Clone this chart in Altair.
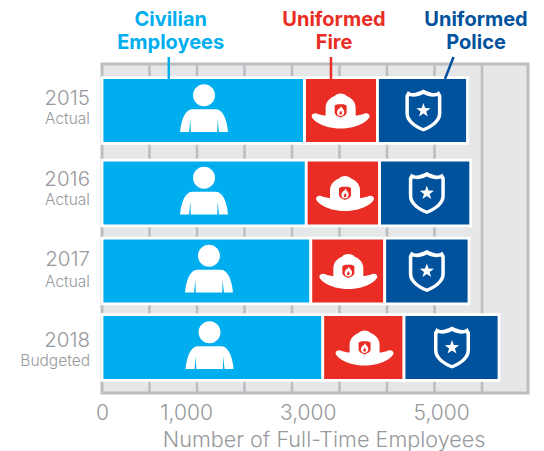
import json
import altair as alt
import pandas as pd

# --- values ---
years = ["2015", "2016", "2017", "2018"]
statuses = ["Actual", "Actual", "Actual", "Budgeted"]
row_center = [46.5, 129, 207, 283.5]
year_baseline = [41, 122, 201.5, 282.7]
status_baseline = [59.5, 141, 222.5, 302]
civilian = [2132, 2150, 2198, 2324]
fire = [768, 772, 778, 855]
police = [947, 959, 887, 1000]

person_x = [1074, 1074, 1126, 1132]
helmet_x = [2512, 2558, 2593, 2764]
shield_x = [3383, 3419, 3419, 3684]

grid_values = [500, 1000, 1500, 2000, 2500, 3000, 3500, 4000]
tick_positions = [0, 885, 2165, 3570]
tick_labels = ["0", "1,000", "3,000", "5,000"]

header_lines = ["Civilian", "Employees", "Uniformed", "Fire", "Uniformed", "Police"]
header_x = [723, 723, 2442, 2442, 3937, 3937]
header_y = [-37.8, -15.5, -37.8, -15.5, -37.8, -15.5]
header_color = ["#00aeef", "#00aeef", "#e92d24", "#e92d24", "#01529c", "#01529c"]

leader_x = [703, 2410, 3700]
leader_x2 = [703, 2410, 3610]
leader_color = ["#00aeef", "#e92d24", "#01529c"]

CIV, FIR, POL = "#00aeef", "#e92d24", "#01529c"
GREY = "#bcbec0"
TXT = "#97999c"
FONT = "Inter"

# --- icon outlines, relative to the centre of their bar ---
PERSON = ("M-11,-15.2 a11,11 0 1,0 22,0 a11,11 0 1,0 -22,0 Z "
          "M-24,21.5 C-23,10 -19,-1.2 -12,-1.2 L12,-1.2 C19,-1.2 23,10 24,21.5 "
          "L15,21.5 L13.6,9 L13.3,21.5 L-13.3,21.5 L-13.6,9 L-15,21.5 Z")
HELMET = ("M-29,6 C-29,3 -26,2.5 -24,3 C-20,4.5 -17,5 -15,5 L-15,-3 C-15,-9 -10,-13 -6,-14.5 "
          "C-4,-18 4,-18 6,-14.5 C10,-13 15,-9 15,-3 L15,5 C17,5 20,4.5 24,3 C26,2.5 29,3 29,6 "
          "C29,8 20,18 0,18 C-20,18 -29,8 -29,6 Z")
BADGE = "M-6,-5 L-3,-6.3 L3,-6.3 L6,-5 L6,2 C6,4 3,6 0,7 C-3,6 -6,4 -6,2 Z"
FLAME = ("M0.5,-4.5 C1,-2 4,-1 3.7,2 C3.4,4.5 1.5,5.5 0,5.5 C-1.5,5.5 -3.7,4.5 -3.7,2 "
         "C-3.7,0 -2.2,-1 -1.8,-2.2 C-1.3,-1.2 -0.7,-2 0.5,-4.5 Z")
EMBER = "M0.2,0 C0.8,1.2 1.6,2 1.3,3.2 C1,4.4 -1,4.4 -1.3,3.2 C-1.5,2 -0.5,1.4 0.2,0 Z"
SHIELD = ("M-18,-15 L-15.5,-19.5 C-13,-17 -9,-17 -6,-18.5 C-4,-19 -2,-20 0,-21 C2,-20 4,-19 6,-18.5 "
          "C9,-17 13,-17 15.5,-19.5 L18,-15 L18,3 C18,12 8,18 0,21 C-8,18 -18,12 -18,3 Z")
SHIELD_IN = ("M-14.5,-13.5 L-13.5,-14.5 C-10,-13 -5,-14 0,-16.5 C5,-14 10,-13 13.5,-14.5 L14.5,-13.5 "
             "L14.5,3 C14.5,10 6,15 0,17.5 C-6,15 -14.5,10 -14.5,3 Z")
STAR = ("M0,-7.5 L1.76,-2.43 L7.13,-2.32 L2.85,0.93 L4.41,6.07 L0,3 L-4.41,6.07 L-2.85,0.93 "
        "L-7.13,-2.32 L-1.76,-2.43 Z")

# --- tables ---
HALF = 32.9
rows = []
for i, y in enumerate(years):
    s = 0
    for name, vals, col in (("Civilian", civilian, CIV), ("Fire", fire, FIR), ("Police", police, POL)):
        rows.append(dict(year=y, group=name, start=s, end=s + vals[i], color=col,
                         top=row_center[i] - HALF, bottom=row_center[i] + HALF))
        s += vals[i]
bars = pd.DataFrame(rows)
icons = pd.DataFrame(dict(year=years, c=row_center, person=person_x, helmet=helmet_x, shield=shield_x))
ylabels = pd.DataFrame(dict(year=years, status=statuses, yb=year_baseline, sb=status_baseline))
grid = pd.DataFrame(dict(v=grid_values))
heads = pd.DataFrame(dict(t=header_lines, x=header_x, y=header_y, col=header_color))
leaders = pd.DataFrame(dict(x=leader_x, x2=leader_x2, y=[-7, -7, -7], y2=[15, 15, 15], col=leader_color))

xs = alt.Scale(domain=[0, 4484], nice=False, zero=False)
ys = alt.Scale(domain=[329, 0], nice=False, zero=False)
label_map = json.dumps({str(p): l for p, l in zip(tick_positions, tick_labels)})

xaxis = alt.Axis(
    values=tick_positions, labelExpr=f"({label_map})[datum.value]",
    title="Number of Full-Time Employees", titleFont=FONT, titleFontSize=21.6, titleFontWeight=300,
    titleColor=TXT, titleX=221.6, titleY=53, titleBaseline="alphabetic", titleAlign="center",
    labelFont=FONT, labelFontSize=21, labelFontWeight=300, labelColor=TXT, labelPadding=9,
    labelFlush=False, labelOverlap=False, ticks=False, domain=False, grid=False)

grid_layer = alt.Chart(grid).mark_rule(color=GREY, strokeWidth=2.6).encode(
    x=alt.X("v:Q", scale=xs, axis=xaxis),
)

bar_layer = alt.Chart(bars).mark_rect(stroke="white", strokeWidth=2.8).encode(
    x=alt.X("start:Q", scale=xs, axis=xaxis), x2="end:Q",
    y=alt.Y("top:Q", scale=ys, axis=None), y2="bottom:Q",
    color=alt.Color("color:N", scale=None),
)

leader_layer = alt.Chart(leaders).mark_rule(strokeWidth=2.5).encode(
    x=alt.X("x:Q", scale=xs, axis=xaxis), x2="x2:Q",
    y=alt.Y("y:Q", scale=ys, axis=None), y2="y2:Q",
    color=alt.Color("col:N", scale=None),
)


def icon(path, field, color):
    return alt.Chart(icons).mark_point(
        shape=path, size=4, filled=True, fill=color, stroke=None, opacity=1
    ).encode(
        x=alt.X(f"{field}:Q", scale=xs, axis=xaxis),
        y=alt.Y("c:Q", scale=ys, axis=None),
    )


head_layer = alt.Chart(heads).mark_text(
    font=FONT, fontSize=20, fontWeight=700, baseline="alphabetic", align="center"
).encode(
    x=alt.X("x:Q", scale=xs, axis=xaxis), y=alt.Y("y:Q", scale=ys, axis=None),
    text="t:N", color=alt.Color("col:N", scale=None),
)

year_layer = alt.Chart(ylabels).mark_text(
    font=FONT, fontSize=20.5, fontWeight=300, color=TXT, align="right", baseline="alphabetic"
).encode(x=alt.value(-12), y=alt.Y("yb:Q", scale=ys, axis=None), text="year:N")

status_layer = alt.Chart(ylabels).mark_text(
    font=FONT, fontSize=15.5, fontWeight=300, color=TXT, align="right", baseline="alphabetic"
).encode(x=alt.value(-12), y=alt.Y("sb:Q", scale=ys, axis=None), text="status:N")

chart = alt.layer(
    grid_layer, bar_layer, leader_layer,
    icon(PERSON, "person", "white"),
    icon(HELMET, "helmet", "white"), icon(BADGE, "helmet", FIR), icon(FLAME, "helmet", "white"),
    icon(EMBER, "helmet", FIR),
    icon(SHIELD, "shield", "white"), icon(SHIELD_IN, "shield", POL), icon(STAR, "shield", "white"),
    head_layer, year_layer, status_layer,
).properties(
    width=426, height=329,
    padding={"left": 94, "top": 56, "right": 8, "bottom": 58},
    autosize=alt.AutoSizeParams(type="none"),
).configure_view(fill="#e6e7e8", stroke=GREY, strokeWidth=3)

chart.save("out.html", embed_options={"renderer": "svg", "actions": False})
